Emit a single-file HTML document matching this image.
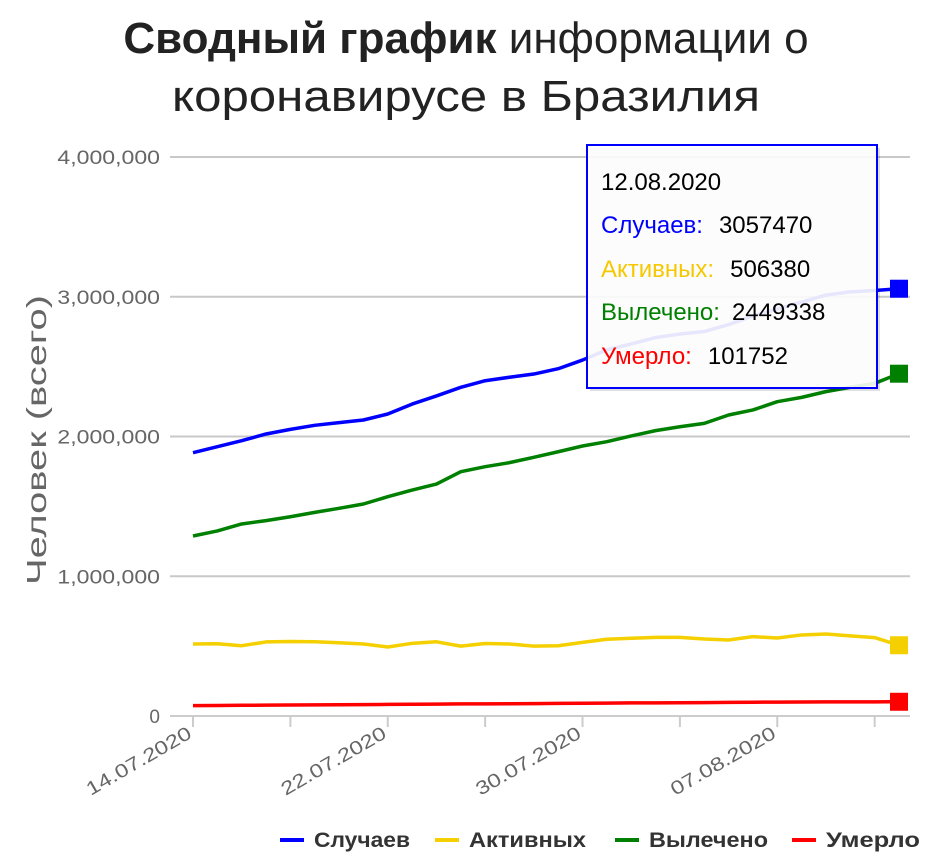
<!DOCTYPE html>
<html><head><meta charset="utf-8"><style>
body{margin:0;background:#fff;width:931px;height:859px;overflow:hidden}
svg{display:block;font-family:"Liberation Sans","DejaVu Sans",sans-serif}
</style></head><body>
<svg id="chart" width="931" height="859" viewBox="0 0 931 859">
<text x="466" y="53" text-anchor="middle" font-size="44" fill="#222"><tspan font-weight="bold">Сводный график</tspan> информации о</text>
<text x="466" y="111" text-anchor="middle" font-size="44" fill="#222" textLength="588" lengthAdjust="spacingAndGlyphs">коронавирусе в Бразилия</text>
<text transform="translate(46,440) rotate(-90)" text-anchor="middle" font-size="28" fill="#666" textLength="290" lengthAdjust="spacingAndGlyphs">Человек (всего)</text>
<g id="grid"></g><g id="xaxis"></g><g id="series"></g>
<g>
<rect x="590" y="148" width="290" height="243" fill="#000" opacity="0.12"/>
<rect x="587" y="145" width="290" height="243" fill="#fff" fill-opacity="0.9" stroke="#0000ff" stroke-width="2"/>
<text x="601" y="190" font-size="24" fill="#000">12.08.2020</text>
<text x="601" y="233" font-size="24"><tspan fill="#0000ff">Случаев:</tspan><tspan fill="#000" dx="16">3057470</tspan></text>
<text x="601" y="277" font-size="24"><tspan fill="#f5c800">Активных:</tspan><tspan fill="#000" dx="16">506380</tspan></text>
<text x="601" y="320" font-size="24"><tspan fill="#008000">Вылечено:</tspan><tspan fill="#000" dx="12">2449338</tspan></text>
<text x="601" y="364" font-size="24"><tspan fill="#ff0000">Умерло:</tspan><tspan fill="#000" dx="16">101752</tspan></text>
</g>
<g id="legend"></g>
</svg>
<script>
const dates=["14.07.2020","15.07.2020","16.07.2020","17.07.2020","18.07.2020","19.07.2020","20.07.2020","21.07.2020","22.07.2020","23.07.2020","24.07.2020","25.07.2020","26.07.2020","27.07.2020","28.07.2020","29.07.2020","30.07.2020","31.07.2020","01.08.2020","02.08.2020","03.08.2020","04.08.2020","05.08.2020","06.08.2020","07.08.2020","08.08.2020","09.08.2020","10.08.2020","11.08.2020","12.08.2020"];
const cases=[1884,1927,1970,2018,2051,2080,2099,2118,2161,2232,2290,2352,2399,2424,2447,2485,2547,2620,2662,2708,2733,2751,2801,2862,2912,2962,3012,3035,3045,3057.47];
const active=[515,517,503,530,533,531,524,515,494,520,531,500,519,515,500,503,527,549,556,563,563,551,544,568,558,580,587,573,561,506.38];
const recovered=[1288,1324,1374,1398,1426,1457,1486,1517,1569,1617,1660,1748,1784,1813,1851,1891,1932,1963,2004,2042,2070,2094,2154,2190,2249,2280,2321,2352,2380,2449.338];
const deaths=[74.1,75.4,76.7,77.9,79.0,79.5,80.1,81.5,82.9,84.1,85.2,86.4,87.0,87.6,88.5,90.1,91.3,92.5,93.6,94.1,94.7,95.8,97.3,98.5,99.6,100.5,101.0,101.1,101.5,101.752];
const yTicks=[0,1000,2000,3000,4000];
const yTickLabels=["0","1,000,000","2,000,000","3,000,000","4,000,000"];
const xTickIdx=[0,4,8,12,16,20,24,28];
const xLabelIdx=[0,8,16,24];
const NS="http://www.w3.org/2000/svg";
const X0=193,X1=899,Y0=716,Y1=157;
function xs(i){return X0+(X1-X0)*i/(dates.length-1);}
function ys(v){return Y0-(Y0-Y1)*v/4000;}
function mk(t,a,p){const e=document.createElementNS(NS,t);for(const k in a)e.setAttribute(k,a[k]);p.appendChild(e);return e;}
const grid=document.getElementById('grid');
yTicks.forEach((v,i)=>{
 const l=mk('line',{x1:170,x2:910,y1:ys(v),y2:ys(v),stroke:i==0?'#ccc':'#c8c8c8','stroke-width':2},grid);
 
 
 const t=mk('text',{x:160,y:ys(v)+7,'text-anchor':'end','font-size':19,fill:'#666'},grid);
 
 
 t.textContent=yTickLabels[i];
 if(i>0){t.setAttribute('textLength',String(yTickLabels[i].length*11.4));t.setAttribute('lengthAdjust','spacingAndGlyphs');}
});
const xa=document.getElementById('xaxis');
xTickIdx.forEach(i=>{
 const l=mk('line',{x1:xs(i),x2:xs(i),y1:716,y2:727,stroke:'#ccc','stroke-width':2},xa);
 
 
});
xLabelIdx.forEach(i=>{
 const t=mk('text',{transform:`translate(${xs(i)},737) rotate(-30)`,'text-anchor':'end','font-size':19,fill:'#666',textLength:118,lengthAdjust:'spacingAndGlyphs'},xa);
 
 
 t.textContent=dates[i];
});
const ser=document.getElementById('series');
const defs=[["cases",cases,"#0000ff","Случаев"],["active",active,"#f5d000","Активных"],["recovered",recovered,"#008000","Вылечено"],["deaths",deaths,"#ff0000","Умерло"]];
defs.forEach(([n,arr,c])=>{
 const p=mk('polyline',{points:arr.map((v,i)=>xs(i)+','+ys(v)).join(' '),fill:'none',stroke:c,'stroke-width':3.5,'stroke-linejoin':'round'},ser);
 
 
});
defs.forEach(([n,arr,c])=>{
 const last=arr.length-1;
 const r=mk('rect',{x:xs(last)-9,y:ys(arr[last])-9,width:18,height:18,fill:c},ser);
 
 
});
const lg=document.getElementById('legend');
const lx=[[280,314,96],[435,469,117],[615,649,119],[792,826,94]];
defs.forEach(([n,arr,c,label],i)=>{
 const g=mk('g',{},lg);
 
 
 mk('line',{x1:lx[i][0],x2:lx[i][0]+24,y1:840,y2:840,stroke:c,'stroke-width':4},g);
 const t=mk('text',{x:lx[i][1],y:847,'font-size':21,'font-weight':'bold',fill:'#333',textLength:lx[i][2],lengthAdjust:'spacingAndGlyphs'},g);
 t.textContent=label;
});
</script>
</body></html>
